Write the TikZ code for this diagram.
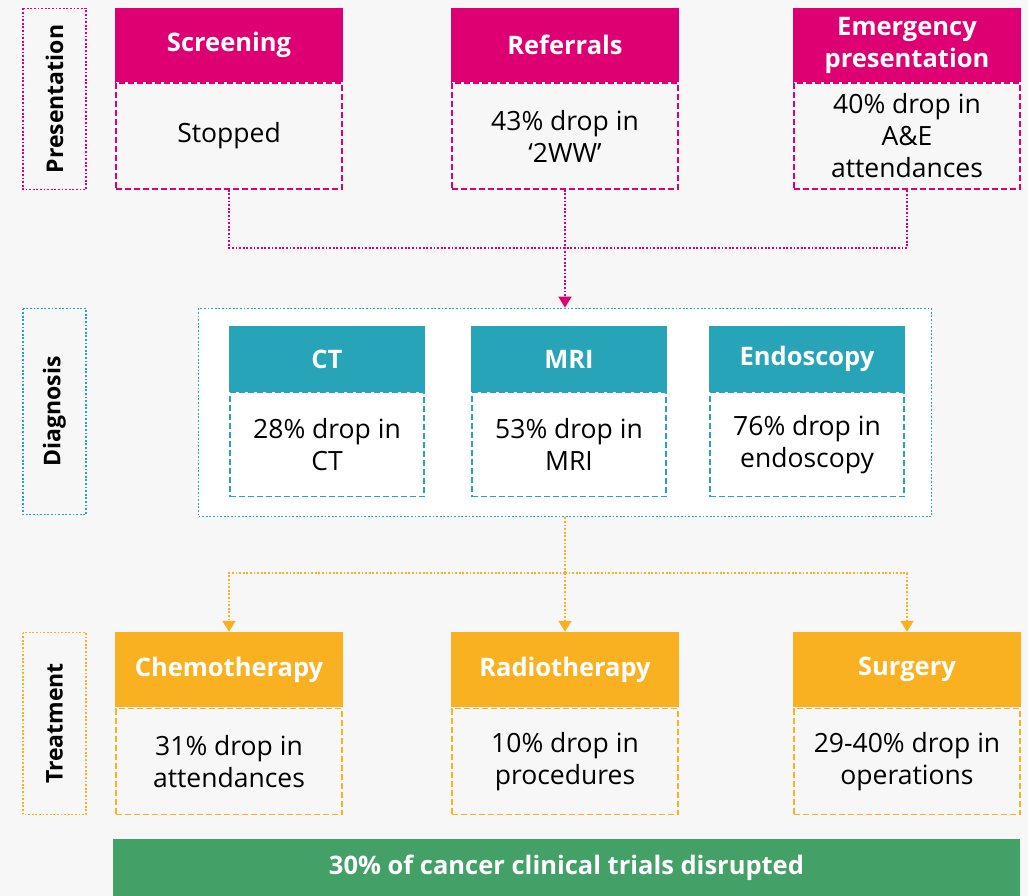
\documentclass[tikz,border=0pt]{standalone}
\usepackage{fontspec}
\setmainfont{Open Sans}
\usepackage{xcolor}
\usetikzlibrary{arrows.meta, positioning}

\definecolor{bgcol}{HTML}{F7F7F7}
\definecolor{pinkc}{HTML}{DE0073}
\definecolor{tealc}{HTML}{27A4B8}
\definecolor{orangec}{HTML}{F9B122}
\definecolor{greenc}{HTML}{43A067}

\tikzset{
  hdr/.style={fill=#1, text=white, font=\fontsize{25.5}{32}\selectfont\bfseries,
    minimum width=228pt, minimum height=74pt, align=center, inner sep=0pt},
  bodybox/.style={draw=#1, line width=1.6pt, dash pattern=on 6pt off 3pt,
    minimum width=226pt, minimum height=106pt, align=center, inner sep=0pt,
    font=\fontsize{26.5}{32}\selectfont},
  stagebox/.style={draw=#1, line width=1.8pt, dash pattern=on 1.8pt off 1.8pt,
    rotate=90, minimum height=63pt, inner sep=0pt,
    font=\fontsize{23}{28}\selectfont\bfseries},
  dotline/.style={draw=#1, line width=1.8pt, dash pattern=on 1.8pt off 1.8pt},
  tip/.style={-{Triangle[width=13pt,length=11pt]}, #1}
}

\begin{document}
\begin{tikzpicture}[x=1pt, y=-1pt]
\fill[bgcol] (0,0) rectangle (1028,896);
\useasboundingbox (0,0) rectangle (1028,896);

% stage labels
\node[stagebox=pinkc, minimum width=181pt] (stpres) at (54.5,99) {Presentation};
\node[stagebox=tealc, minimum width=206pt] (stdiag) at (54.5,411.5) {Diagnosis};
\node[stagebox=orangec, minimum width=182pt] (sttreat) at (54.5,723.5) {Treatment};

% presentation
\node[hdr=pinkc] (scrh) at (229,45) {Screening};
\node[bodybox=pinkc] (scrb) at (229,136) {Stopped};
\node[hdr=pinkc] (refh) at (565,45) {Referrals};
\node[bodybox=pinkc] (refb) at (565,136) {43\% drop in\\‘2WW’};
\node[hdr=pinkc] (emgh) at (907,45) {Emergency\\presentation};
\node[bodybox=pinkc] (emgb) at (907,136) {40\% drop in\\A\&E\\attendances};

% diagnosis
\node[draw=tealc, fill=white, line width=1.8pt, dash pattern=on 1.8pt off 1.8pt,
  minimum width=733pt, minimum height=208pt] (diag) at (565,412.5) {};
\node[hdr=tealc, minimum width=196pt, minimum height=66pt] (cth) at (327,359) {CT};
\node[bodybox=tealc, minimum width=194pt, minimum height=104pt] (ctb) at (327,444.5) {28\% drop in\\CT};
\node[hdr=tealc, minimum width=196pt, minimum height=66pt] (mrih) at (569,359) {MRI};
\node[bodybox=tealc, minimum width=194pt, minimum height=104pt] (mrib) at (569,444.5) {53\% drop in\\MRI};
\node[hdr=tealc, minimum width=196pt, minimum height=66pt] (endh) at (807,359) {Endoscopy};
\node[bodybox=tealc, minimum width=194pt, minimum height=104pt] (endb) at (807,444.5) {76\% drop in\\endoscopy};

% treatment
\node[hdr=orangec, minimum height=75pt] (chemh) at (229,669.5) {Chemotherapy};
\node[bodybox=orangec] (chemb) at (229,761.5) {31\% drop in\\attendances};
\node[hdr=orangec, minimum height=75pt] (radh) at (565,669.5) {Radiotherapy};
\node[bodybox=orangec] (radb) at (565,761.5) {10\% drop in\\procedures};
\node[hdr=orangec, minimum height=75pt] (surgh) at (907,669.5) {Surgery};
\node[bodybox=orangec] (surgb) at (907,761.5) {29-40\% drop in\\operations};

% trials bar
\node[fill=greenc, text=white, minimum width=907pt, minimum height=57pt, inner sep=0pt,
  font=\fontsize{25.5}{30}\selectfont\bfseries] (trials) at (566.5,867.5) {30\% of cancer clinical trials disrupted};

% connectors
\coordinate (pjoin) at (565,248);
\draw[dotline=pinkc] (scrb.south) |- (pjoin) -| (emgb.south);
\draw[dotline=pinkc, tip=pinkc] (refb.south) -- (diag.north);

\coordinate (ojoin) at (565,573);
\draw[dotline=orangec] (diag.south) -- (ojoin);
\draw[dotline=orangec, tip=orangec] (ojoin) -| (chemh.north);
\draw[dotline=orangec, tip=orangec] (ojoin) -- (radh.north);
\draw[dotline=orangec, tip=orangec] (ojoin) -| (surgh.north);

\end{tikzpicture}
\end{document}
